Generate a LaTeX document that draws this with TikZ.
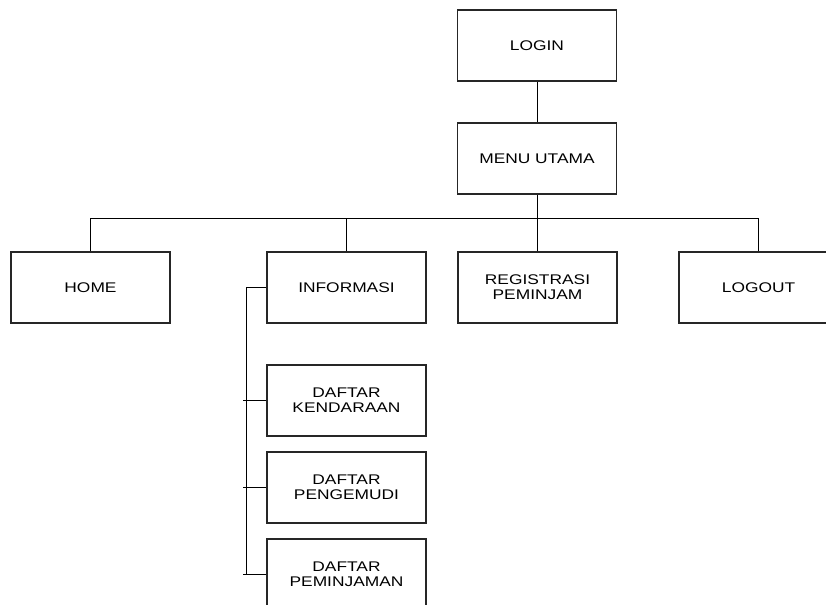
\documentclass[tikz,border=0pt]{standalone}
\usepackage{fontspec}
\setmainfont[FakeStretch=1.24]{Liberation Sans}
\begin{document}
\begin{tikzpicture}[x=0.75pt,y=-0.75pt,
  menubox/.style={draw=black!85, line width=0.8pt, fill=white, inner sep=0pt,
    minimum width=119.25pt, minimum height=53.25pt, align=center,
    font=\fontsize{10.5pt}{11.3pt}\selectfont},
  link/.style={draw=black, line width=0.75pt}]
\useasboundingbox (0,0) rectangle (826,605);
\clip (0,0) rectangle (826,605);

% top level
\node[menubox] (login) at (537,45.5) {LOGIN};
\node[menubox] (menu) at (537,158.5) {MENU UTAMA};

% second level
\node[menubox] (home) at (90.5,287.5) {HOME};
\node[menubox] (info) at (346.5,287.5) {INFORMASI};
\node[menubox] (reg) at (537.5,287.5) {REGISTRASI\\PEMINJAM};
\node[menubox] (logout) at (758.5,287.5) {LOGOUT};

% submenu of INFORMASI
\node[menubox] (kend) at (346.5,400.5) {DAFTAR\\KENDARAAN};
\node[menubox] (peng) at (346.5,487.5) {DAFTAR\\PENGEMUDI};
\node[menubox] (pmj) at (346.5,574.5) {DAFTAR\\PEMINJAMAN};

\coordinate (bus) at (537,219);
\coordinate (spine) at (246,0);
\coordinate (tick) at (243,0);

% connectors
\draw[link] (login) -- (menu);
\draw[link] (menu) -- (bus);
\draw[link] (home.north) -- (home.north |- bus) -- (logout.north |- bus) -- (logout.north);
\draw[link] (info.north) -- (info.north |- bus);
\draw[link] (reg.north) -- (reg.north |- bus);

\draw[link] (info.west) -- (info.west -| spine) -- (pmj.west -| spine);
\draw[link] (kend.west -| tick) -- (kend.west);
\draw[link] (peng.west -| tick) -- (peng.west);
\draw[link] (pmj.west -| tick) -- (pmj.west);
\end{tikzpicture}
\end{document}
